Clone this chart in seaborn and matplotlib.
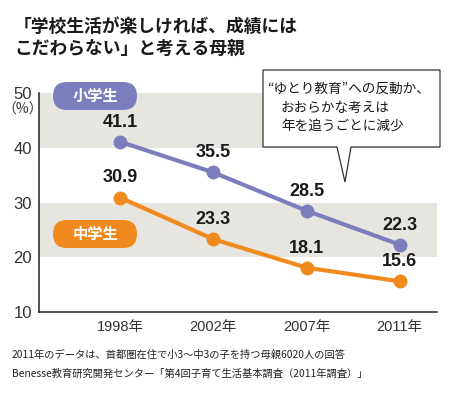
import pandas as pd
import seaborn as sns
import matplotlib.pyplot as plt
from matplotlib.patches import FancyBboxPatch, Polygon

years = ["1998年", "2002年", "2007年", "2011年"]
elementary = [41.1, 35.5, 28.5, 22.3]
junior_high = [30.9, 23.3, 18.1, 15.6]
group_names = ["小学生", "中学生"]
yticks = [10, 20, 30, 40, 50]

title = "「学校生活が楽しければ、成績には\nこだわらない」と考える母親"
bubble_lines = ["“ゆとり教育”への反動か、", "おおらかな考えは", "年を追うごとに減少"]
notes = ["2011年のデータは、首都圏在住で小3～中3の子を持つ母親6020人の回答",
         "Benesse教育研究開発センター「第4回子育て生活基本調査（2011年調査）」"]

df = pd.DataFrame({
    "year": years * 2,
    "pct": elementary + junior_high,
    "group": [group_names[0]] * 4 + [group_names[1]] * 4,
})

purple = "#7b7dbd"
orange = "#f0891e"
band = "#e7e5e0"
num_font = ["Liberation Sans", "Noto Sans CJK JP"]

sns.set_style("white")
plt.rcParams["font.family"] = ["Noto Sans CJK JP", "DejaVu Sans"]

W, H = 454, 394
fig = plt.figure(figsize=(W / 100, H / 100), dpi=100)
ax = fig.add_axes([39 / W, 1 - 312 / H, (437 - 39) / W, (312 - 93) / H])

def px(x, y):
    return x / 100, (H - y) / 100

ax.axhspan(40, 50, color=band, zorder=0, lw=0)
ax.axhspan(20, 30, color=band, zorder=0, lw=0)

sns.lineplot(data=df, x="year", y="pct", hue="group", palette=[purple, orange],
             marker="o", markersize=10, markeredgewidth=0, linewidth=3,
             legend=False, ax=ax, zorder=3)

for vals in (elementary, junior_high):
    for i, v in enumerate(vals):
        ax.annotate(f"{v}", (i, v), xytext=(0, 8), textcoords="offset points",
                    ha="center", va="bottom", fontsize=13, fontweight="bold",
                    color="#1a1a1a", family=num_font)

ax.set_xlim(-0.87, 3.4)
ax.set_ylim(10, 50)
ax.set_yticks(yticks)
ax.set_xlabel("")
ax.set_ylabel("")
sns.despine(ax=ax)
for s in ("left", "bottom"):
    ax.spines[s].set_color("#222222")
    ax.spines[s].set_linewidth(1.1)
ax.tick_params(axis="x", direction="in", length=7, width=1, color="#222222",
               labelsize=10.5, labelcolor="#333333", pad=6)
ax.tick_params(axis="y", length=0, labelsize=12, labelcolor="#333333", pad=5)
for lab in ax.get_xticklabels() + ax.get_yticklabels():
    lab.set_family(num_font)
fig.text(23 / W, 1 - 110 / H, "（%）", fontsize=10, color="#333333",
         ha="center", va="center")

# pills
for (y0, text, col) in ((82, group_names[0], purple), (220, group_names[1], orange)):
    x0, w, h = 53, 84, 28
    bx, by = px(x0, y0 + h)
    pill = FancyBboxPatch((bx, by), w / 100, h / 100,
                          boxstyle="round,pad=0,rounding_size=0.14",
                          transform=fig.dpi_scale_trans, fc=col, ec="none", zorder=5)
    fig.add_artist(pill)
    cx, cy = px(x0 + w / 2, y0 + h / 2)
    fig.text(cx * 100 / W, cy * 100 / H, text, color="white", fontsize=11,
             fontweight="bold", ha="center", va="center", zorder=6)

# speech bubble
pts = [(263, 70), (440, 70), (440, 147), (351, 147), (345, 182), (337, 147), (263, 147)]
bubble = Polygon([px(x, y) for x, y in pts], closed=True, transform=fig.dpi_scale_trans,
                 fc="white", ec="#333333", lw=0.9, zorder=4)
fig.add_artist(bubble)
for i, line in enumerate(bubble_lines):
    x = 267 if i == 0 else 281
    fig.text(x / W, 1 - (89 + i * 19) / H, line, fontsize=9.8, color="#1a1a1a",
             va="center", zorder=6)

fig.text(14 / W, 1 - 38 / H, title, fontsize=12.8, fontweight="bold",
         color="#1a1a1a", linespacing=1.25, va="center")
for i, line in enumerate(notes):
    fig.text(12 / W, 1 - (355 + i * 19) / H, line, fontsize=7.4, color="#222222",
             va="center")

fig.savefig("out.png", dpi=100)
